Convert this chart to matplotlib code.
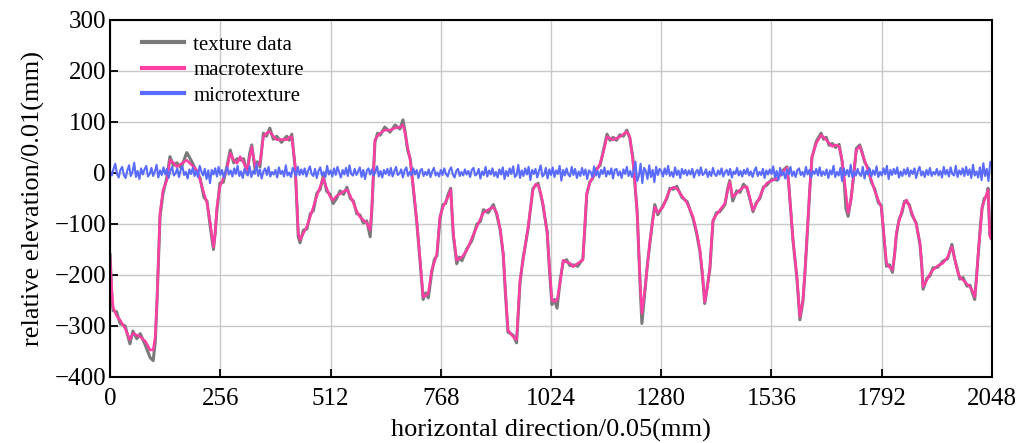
import numpy as np
import matplotlib
matplotlib.use("Agg")
import matplotlib.pyplot as plt

plt.rcParams['font.family'] = ['Liberation Serif', 'DejaVu Serif']
plt.rcParams['mathtext.fontset'] = 'stix'

# macrotexture key points
pos = [0, 4, 7, 15, 23, 35, 46, 53, 62, 70,
       82, 93, 100, 105, 109, 116, 123, 132, 139, 147,
       155, 165, 178, 190, 201, 209, 218, 225, 233, 240,
       244, 248, 255, 263, 271, 279, 287, 295, 302, 310,
       318, 324, 329, 337, 342, 348, 356, 363, 371, 379,
       387, 398, 410, 416, 422, 430, 437, 441, 449, 457,
       465, 472, 480, 488, 495, 503, 511, 518, 526, 534,
       542, 550, 558, 565, 573, 580, 588, 596, 604, 608,
       615, 621, 627, 638, 650, 662, 673, 680, 685, 691,
       697, 704, 712, 720, 727, 733, 739, 747, 753, 759,
       766, 773, 779, 785, 791, 797, 805, 811, 817, 829,
       840, 852, 860, 867, 878, 890, 898, 906, 913, 918,
       924, 936, 944, 952, 959, 971, 982, 988, 994, 1000,
       1005, 1015, 1020, 1026, 1032, 1038, 1045, 1052, 1060, 1068,
       1075, 1086, 1098, 1102, 1107, 1114, 1121, 1130, 1138, 1145,
       1154, 1161, 1168, 1176, 1184, 1192, 1200, 1207, 1214, 1219,
       1224, 1231, 1235, 1242, 1248, 1254, 1260, 1265, 1272, 1284,
       1293, 1300, 1308, 1316, 1328, 1340, 1354, 1362, 1370, 1376,
       1381, 1387, 1393, 1400, 1408, 1416, 1428, 1434, 1439, 1446,
       1455, 1463, 1471, 1479, 1486, 1493, 1501, 1509, 1517, 1525,
       1537, 1549, 1560, 1572, 1576, 1579, 1586, 1595, 1602, 1609,
       1614, 1619, 1625, 1630, 1640, 1651, 1657, 1663, 1670, 1677,
       1685, 1693, 1700, 1705, 1709, 1714, 1721, 1727, 1733, 1741,
       1746, 1752, 1760, 1768, 1776, 1784, 1791, 1797, 1803, 1810,
       1817, 1822, 1826, 1832, 1839, 1845, 1850, 1856, 1862, 1872,
       1881, 1885, 1888, 1897, 1904, 1911, 1922, 1934, 1945, 1955,
       1961, 1967, 1973, 1981, 1990, 1997, 2003, 2008, 2012, 2016,
       2021, 2025, 2030, 2036, 2039, 2043, 2047]

macro = [-167, -230, -263, -280, -288, -305, -327, -314, -318, -321,
         -330, -347, -347, -320, -249, -78, -33, -14, 25, 20,
         12, 18, 25, 15, 6, -14, -40, -59, -100, -145,
         -120, -67, -27, -10, 6, 39, 25, 19, 32, 20,
         6, 30, 51, 12, 15, 19, 71, 78, 81, 72,
         65, 66, 65, 70, 71, 12, -118, -131, -118, -105,
         -85, -67, -45, -27, -10, -30, -47, -53, -45, -41,
         -36, -33, -45, -59, -75, -86, -92, -98, -112, -67,
         65, 72, 78, 84, 84, 88, 90, 94, 78, 50,
         25, -27, -92, -171, -243, -240, -236, -190, -175, -158,
         -86, -67, -57, -47, -33, -118, -171, -168, -165, -151,
         -128, -105, -90, -78, -72, -67, -78, -110, -158, -230,
         -308, -321, -327, -210, -171, -105, -33, -22, -24, -40,
         -59, -118, -180, -249, -252, -249, -216, -171, -175, -177,
         -184, -177, -171, -110, -40, -20, -8, 5, 19, 39,
         71, 68, 65, 68, 71, 76, 81, 71, 25, -20,
         -78, -216, -275, -229, -180, -131, -95, -67, -78, -67,
         -47, -33, -28, -30, -45, -59, -86, -115, -151, -200,
         -253, -225, -184, -92, -82, -73, -59, -35, -18, -47,
         -40, -33, -28, -27, -50, -73, -60, -47, -30, -20,
         -15, -10, 0, 10, -20, -53, -131, -204, -282, -249,
         -190, -118, -30, 32, 58, 74, 70, 65, 58, 52,
         55, 52, 25, -10, -41, -78, -53, 0, 45, 52,
         40, 25, 6, -14, -35, -53, -67, -120, -177, -185,
         -190, -160, -118, -95, -73, -58, -53, -65, -78, -100,
         -138, -180, -223, -210, -198, -190, -182, -177, -165, -145,
         -165, -190, -204, -210, -218, -223, -232, -243, -210, -158,
         -110, -67, -55, -41, -33, -125, -130]

texture = [-160, -245, -270, -272, -295, -300, -335, -310, -325, -315,
           -338, -362, -368, -330, -250, -85, -40, -8, 32, 15,
           20, 10, 40, 22, 2, -10, -48, -55, -108, -150,
           -118, -75, -20, -18, 12, 45, 20, 28, 25, 28,
           -2, 38, 55, 5, 22, 12, 78, 72, 88, 66,
           72, 60, 72, 64, 76, 8, -125, -137, -112, -110,
           -80, -74, -40, -32, -6, -36, -42, -60, -50, -35,
           -42, -28, -50, -55, -80, -82, -98, -94, -125, -70,
           60, 78, 74, 90, 80, 94, 86, 104, 82, 45,
           28, -30, -95, -175, -248, -235, -245, -195, -170, -162,
           -90, -62, -60, -42, -30, -122, -178, -165, -172, -148,
           -133, -100, -95, -72, -78, -62, -82, -112, -160, -235,
           -312, -318, -333, -215, -168, -108, -30, -25, -20, -42,
           -62, -115, -185, -258, -248, -265, -212, -175, -170, -182,
           -180, -183, -168, -115, -42, -18, -10, 8, 15, 42,
           76, 64, 70, 64, 75, 72, 84, 68, 30, -24,
           -75, -222, -295, -232, -178, -135, -92, -62, -82, -64,
           -50, -30, -32, -26, -48, -56, -90, -118, -155, -205,
           -256, -222, -188, -96, -78, -76, -62, -32, -15, -55,
           -35, -38, -22, -30, -52, -76, -58, -50, -28, -24,
           -12, -14, 3, 12, -22, -55, -133, -206, -288, -252,
           -192, -120, -32, 30, 62, 78, 66, 70, 54, 58,
           50, 56, 22, -20, -70, -85, -48, -5, 48, 55,
           42, 22, 10, -18, -32, -58, -64, -125, -183, -180,
           -195, -158, -122, -92, -78, -55, -57, -62, -82, -98,
           -142, -182, -228, -206, -202, -186, -185, -173, -168, -140,
           -168, -186, -208, -205, -222, -220, -236, -248, -205, -162,
           -105, -70, -50, -45, -30, -120, -128]

# microtexture, one value every 4 samples
micro = [3, -5, 8, 18, -2, -9, 6, 12, -4, -10, 5, 15, -6, 2, 20, -8,
         4, -12, 9, -3, 7, 14, -7, -2, 10, -6, 3, 16, -9, 5, -4, 11,
         -3, 8, -10, 4, 12, -5, -1, 9, -8, 6, 13, -4, 2, -11, 7, -2,
         10, -6, 4, -8, 14, 3, -5, 8, -12, 5, -20, 6, -3, 9, -7, 12,
         -4, 6, -9, 2, 11, -3, 5, -7, 9, -2, 14, -6, 3, -10, 8, 1,
         -5, 13, -8, 4, -2, 17, -6, 7, -11, 3, 9, -4, 12, -7, 2, -3,
         6, -9, 11, -2, 4, -7, 15, -5, 1, -8, 10, 3, -6, 12, -4, 7,
         -3, 9, -7, 5, 13, -2, -6, 8, -10, 4, 11, -5, 2, -8, 14, -3,
         5, -7, 9, -4, 12, 1, -9, 6, -3, 10, -6, 15, -2, -5, 8, -4,
         3, 11, -8, 6, -12, 4, 9, -3, 7, -5, 2, 13, -7, 4, -9, 6,
         -2, 8, -5, 10, -7, 3, 12, -4, -1, 7, -9, 5, 11, -6, 2, -4,
         9, -3, 6, -10, 4, 8, -6, 2, -4, 7, -8, 3, 10, -5, 1, -7,
         6, -4, 9, -2, -7, 5, 11, -3, -9, 4, 8, -6, 2, -5, 7, -3,
         4, -8, 6, 10, -5, -2, 8, -11, 3, -4, 12, -7, 5, -3, 9, -6,
         2, -9, 7, -3, 11, -12, 4, -6, 9, -2, 13, -8, -4, 16, -10, 5,
         -6, 9, -3, 12, -14, 6, -2, 8, -9, 4, 15, -7, -3, 10, -11, 7,
         -4, 11, -8, 5, -2, 14, -15, 6, -5, 9, -3, -7, 12, -4, 8, -10,
         3, -6, 10, -4, 7, -12, 5, 2, -8, 13, -5, 4, -9, 6, -2, 11,
         -7, 4, -3, 9, -11, 6, 8, -5, 3, -10, 7, -2, 12, -6, 4, -8,
         3, 22, -16, -6, 18, -20, 10, 4, -12, 15, -8, 6, -18, 12, -4, 8,
         4, -7, 9, -3, 14, -6, 2, -8, 11, -4, 5, -10, 8, -2, 6, -5,
         5, -3, 8, -9, 2, 6, -5, 11, -4, -1, 7, -8, 3, -6, 10, -2,
         -6, 5, -3, 9, -7, 2, 6, -4, 8, -9, 3, -2, 10, -5, 4, -7,
         6, -2, 9, -5, 3, -8, 4, 11, -6, 2, -4, 8, -10, 5, -3, 7,
         -2, 13, -9, 4, -14, 10, -5, 2, -11, 7, -3, 12, -6, 3, -8, 5,
         9, -4, 2, -7, 12, -3, 6, -9, 4, -2, 8, -5, 11, -6, 3, -4,
         7, -10, 5, -3, 14, -8, 2, -5, 10, -16, 9, -4, 6, -7, 16, -9,
         3, -5, 8, -2, -6, 12, -11, 4, -3, 9, -7, 5, -4, 13, -8, 2,
         -5, 9, -3, 14, -12, 6, -4, 8, -2, 11, -9, 3, -6, 7, -3, 10,
         -7, 5, -2, 9, -10, 4, 12, -5, 3, -8, 6, -4, 10, -6, 2, -3,
         8, -5, 4, -9, 12, -3, 6, -7, 11, -2, -5, 14, -8, 5, -3, 9,
         -6, 12, -4, 7, -10, 16, -5, 3, -9, 11, -14, 19, -6, 8, -16, 22,
         14]
micro_pos = np.arange(0, 2049, 4)

fig = plt.figure(figsize=(10.29, 4.43), dpi=100)
ax = fig.add_axes([0.107, 0.149, 0.857, 0.806])

ax.plot(pos, texture, color='#7a7a7a', lw=2.2, label='texture data')
ax.plot(pos, macro, color='#ff3fa4', lw=1.8, label='macrotexture')
ax.plot(micro_pos, micro, color='#5a6cff', lw=1.5, label='microtexture')

ax.set_xlim(0, 2048)
ax.set_ylim(-400, 300)
ax.set_xticks(np.arange(0, 2049, 256))
ax.set_yticks(np.arange(-400, 301, 100))
ax.grid(True, color='#c8c8c8', lw=1)
ax.tick_params(direction='in', labelsize=18, length=6, width=1.3, pad=3)
ax.tick_params(axis='x', pad=8)
for s in ax.spines.values():
    s.set_linewidth(1.5)

ax.set_xlabel('horizontal direction/0.05(mm)', fontsize=19, labelpad=6)
ax.set_ylabel('relative elevation/0.01(mm)', fontsize=19, labelpad=7)
leg = ax.legend(loc='upper left', frameon=False, fontsize=15,
                bbox_to_anchor=(0.015, 1.01), handlelength=2.0,
                handletextpad=0.45, labelspacing=0.28)
for h in leg.get_lines():
    h.set_linewidth(3)

fig.savefig('out.png', dpi=100)
